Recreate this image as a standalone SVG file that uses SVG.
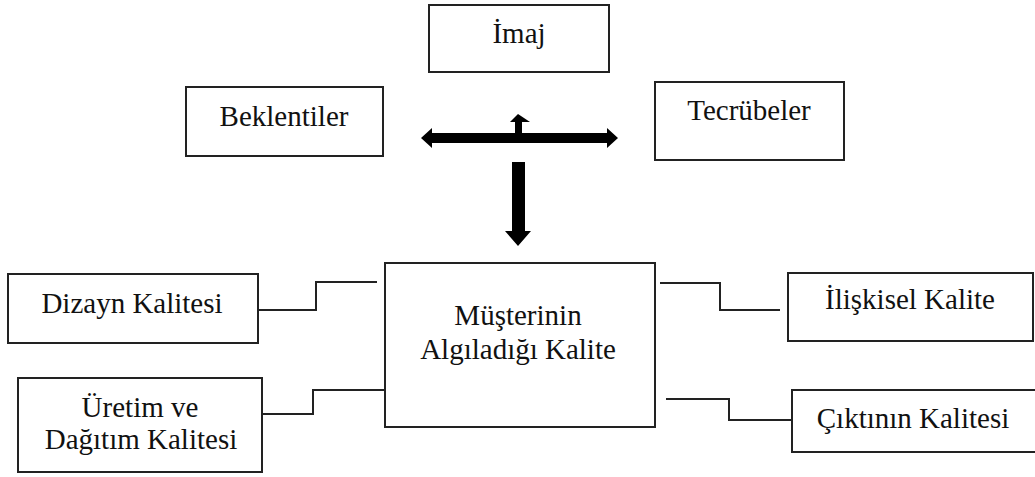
<svg xmlns="http://www.w3.org/2000/svg" width="1035" height="477" viewBox="0 0 1035 477">
<style>
.box{fill:#fff;stroke:#222;stroke-width:2}
.t{font-family:'Liberation Serif','DejaVu Serif',serif;font-size:29px;fill:#111;text-anchor:middle}
.c{fill:none;stroke:#222;stroke-width:2}
.a{fill:#000}
</style>
<rect width="1035" height="477" fill="#fff"/>
<g id="imaj"><rect class="box" x="429" y="5" width="180" height="67"/><text class="t" x="519" y="43">İmaj</text></g>
<g id="beklentiler"><rect class="box" x="186" y="87" width="197" height="69"/><text class="t" x="284" y="126">Beklentiler</text></g>
<g id="tecrubeler"><rect class="box" x="655" y="82" width="189" height="78"/><text class="t" x="749" y="120">Tecrübeler</text></g>
<g id="musteri"><rect class="box" x="385" y="263" width="270" height="164"/><text class="t" x="518" y="325">Müşterinin</text><text class="t" x="518" y="359">Algıladığı Kalite</text></g>
<g id="dizayn"><rect class="box" x="8" y="274" width="250" height="69"/><text class="t" x="132" y="313">Dizayn Kalitesi</text></g>
<g id="uretim"><rect class="box" x="18" y="378" width="244" height="94"/><text class="t" x="140" y="417">Üretim ve</text><text class="t" x="141" y="449">Dağıtım Kalitesi</text></g>
<g id="iliskisel"><rect class="box" x="788" y="273" width="245" height="68"/><text class="t" x="910" y="309">İlişkisel Kalite</text></g>
<g id="ciktinin"><rect class="box" x="792" y="390" width="250" height="62"/><text class="t" x="913" y="428">Çıktının Kalitesi</text></g>
<g id="connectors">
<polyline class="c" points="258,310 316,310 316,282 377,282"/>
<polyline class="c" points="262,414 313,414 313,390 385,390"/>
<polyline class="c" points="660,283 720,283 720,310 780,310"/>
<polyline class="c" points="666,399 729,399 729,420 792,420"/>
<polygon class="a" points="421,138 432,128 432,133 607,133 607,128 618,138 607,148 607,143 432,143 432,148"/>
<polygon class="a" points="515,133 515,122 510,122 518,114 530,122 522,122 522,133"/>
<polygon class="a" points="512,162 525,162 525,231 531,231 518,246 505,231 512,231"/>
</g>
</svg>
